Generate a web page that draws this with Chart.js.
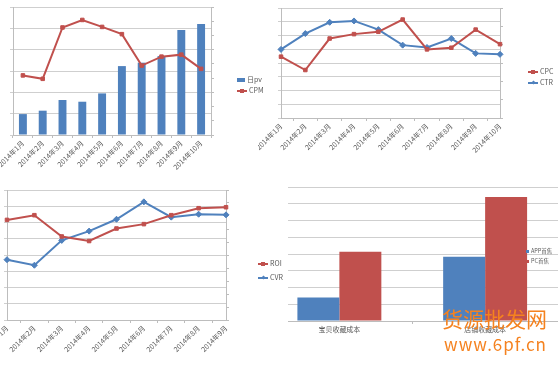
<!DOCTYPE html>
<html>
<head>
<meta charset="utf-8">
<script src="https://cdn.jsdelivr.net/npm/chart.js@4"></script>
<style>
  body { margin: 0; width: 558px; height: 365px; overflow: hidden; position: relative; background: #fff; font-family: "Noto Sans CJK SC", sans-serif; }
  canvas { position: absolute; }
  .lg { position: absolute; font-size: 7px; color: #595959; line-height: 1; white-space: nowrap; z-index: 5; }
  .lg i { display: inline-block; position: relative; vertical-align: middle; margin-right: 2px; }
  .mark { position: absolute; }
  .wm { position: absolute; color: #f5821f; z-index: 6; white-space: nowrap; }
</style>
</head>
<body>
<canvas id="pvChart" width="270" height="180" style="left:0;top:0"></canvas>
<canvas id="cpcChart" width="300" height="180" style="left:258px;top:0"></canvas>
<canvas id="costChart" width="308" height="185" style="left:250px;top:180px;z-index:1"></canvas>
<canvas id="roiChart" width="288" height="185" style="left:0;top:180px;z-index:2"></canvas>
<div class="wm" style="left:442px;top:303px;font-size:21px;">货源批发网</div>
<div class="wm" style="left:444px;top:331px;font-size:17px;letter-spacing:1px;">www.6pf.cn</div>
<script>
// months
const months10 = ['2014年1月', '2014年2月', '2014年3月', '2014年4月', '2014年5月', '2014年6月', '2014年7月', '2014年8月', '2014年9月', '2014年10月'];
const months9 = ['2014年1月', '2014年2月', '2014年3月', '2014年4月', '2014年5月', '2014年6月', '2014年7月', '2014年8月', '2014年9月'];

// top left: 日pv (bars) + CPM
const pvValues = [0.98, 1.14, 1.64, 1.56, 1.95, 3.23, 3.39, 3.70, 4.92, 5.20];
const cpmValues = [4.19, 3.95, 7.56, 8.09, 7.60, 7.09, 4.88, 5.51, 5.65, 4.65];

// top right: CPC + CTR
const cpcValues = [4.46, 3.49, 5.78, 6.10, 6.27, 7.16, 4.99, 5.11, 6.43, 5.37];
const ctrValues = [4.99, 6.14, 6.96, 7.06, 6.43, 5.30, 5.13, 5.78, 4.70, 4.63];

// bottom left: ROI + CVR
const roiValues = [6.16, 6.45, 5.14, 4.86, 5.63, 5.90, 6.45, 6.88, 6.94];
const cvrValues = [3.71, 3.37, 4.90, 5.47, 6.20, 7.27, 6.33, 6.51, 6.47];

// bottom right: cost bars
const costCategories = ['宝贝收藏成本', '店铺收藏成本'];
const appValues = [1.40, 3.84];
const pcValues = [4.14, 7.40];

const BLUE = '#4f81bd';
const RED = '#c0504d';
const GRID = '#cfcfcf';
const AXIS = '#bdbdbd';
const FONT = { family: '"Noto Sans CJK SC", sans-serif', size: 7 };

// force an axis to a fixed size so the plot areas line up with the picture
function fixed(w, h) {
    return function (scale) {
        if (w != null) scale.width = w;
        if (h != null) scale.height = h;
        scale.paddingLeft = scale.paddingRight = scale.paddingTop = scale.paddingBottom = 0;
    };
}

function xAxis(h, rotate) {
    return {
        afterFit: fixed(null, h),
        grid: { display: true, drawOnChartArea: false, tickLength: 3, color: AXIS, offset: true },
        border: { color: AXIS },
        ticks: { font: FONT, color: '#595959', autoSkip: false, maxRotation: rotate, minRotation: rotate, padding: 1 }
    };
}

function yLeft(w, max, border) {
    return {
        position: 'left', min: 0, max: max,
        afterFit: fixed(w, null),
        grid: { color: GRID, tickLength: 3 },
        border: { display: border, color: AXIS },
        ticks: { display: false, stepSize: 1 }
    };
}

function yRight(w, max) {
    return {
        position: 'right', min: 0, max: max,
        afterFit: fixed(w, null),
        grid: { drawOnChartArea: false, tickLength: 3, color: AXIS },
        border: { color: AXIS },
        ticks: { display: false, stepSize: 1 }
    };
}

function lineSet(label, data, color, style, axis) {
    return {
        type: 'line', label: label, data: data, yAxisID: axis || 'y',
        borderColor: color, backgroundColor: color, borderWidth: 2,
        pointStyle: style, pointRadius: style === 'rect' ? 2.5 : 3, pointBorderWidth: 1,
        tension: 0, order: 0
    };
}

const baseOpts = (top, scales) => ({
    responsive: false,
    animation: false,
    layout: { padding: { top: top, left: 0, right: 0, bottom: 0 } },
    plugins: { legend: { display: false }, tooltip: { enabled: false } },
    scales: scales
});

const whiteBg = {
    id: 'whiteBg',
    beforeDraw(c) {
        c.ctx.save();
        c.ctx.fillStyle = '#fff';
        c.ctx.fillRect(0, 0, c.width, c.height);
        c.ctx.restore();
    }
};

// html legend, built from the datasets
function legend(left, top, gap, sets, size) {
    sets.forEach((ds, i) => {
        const d = document.createElement('div');
        d.className = 'lg';
        d.style.left = left + 'px';
        d.style.top = (top + i * gap) + 'px';
        if (size) d.style.fontSize = size + 'px';
        let mark;
        if (ds.type === 'line') {
            const r = ds.pointStyle === 'rect' ? 'width:4px;height:4px;left:3px;top:-1.5px;' : 'width:3px;height:3px;left:3.5px;top:-1px;transform:rotate(45deg);';
            mark = '<i style="width:10px;height:1.5px;background:' + ds.borderColor + '"><span class="mark" style="' + r + 'background:' + ds.borderColor + '"></span></i>';
        } else {
            mark = '<i style="width:' + ds.lgW + 'px;height:' + ds.lgH + 'px;background:' + ds.backgroundColor + '"></i>';
        }
        d.innerHTML = mark + ds.label;
        document.body.appendChild(d);
    });
}

// 1. 日pv / CPM
const pvSets = [
    { type: 'bar', label: '日pv', data: pvValues, backgroundColor: BLUE, barPercentage: 0.4, categoryPercentage: 1, order: 1, lgW: 8, lgH: 3.5 },
    lineSet('CPM', cpmValues, RED, 'rect', 'y1')
];
new Chart(document.getElementById('pvChart'), {
    type: 'bar',
    data: { labels: months10, datasets: pvSets },
    options: baseOpts(7, { x: xAxis(45, 45), y: yLeft(13, 6, true), y1: yRight(59, 9) })
});
legend(237, 76, 11, pvSets);

// 2. CPC / CTR
const cpcSets = [
    lineSet('CPC', cpcValues, RED, 'rect'),
    lineSet('CTR', ctrValues, BLUE, 'rectRot')
];
new Chart(document.getElementById('cpcChart'), {
    type: 'line',
    data: { labels: months10, datasets: cpcSets },
    options: baseOpts(8, { x: xAxis(62, 45), y: yLeft(23, 8, true), y1: yRight(58, 6) })
});
legend(528, 68, 11, cpcSets);

// 3. ROI / CVR
const roiSets = [
    lineSet('ROI', roiValues, RED, 'rect'),
    lineSet('CVR', cvrValues, BLUE, 'rectRot')
];
new Chart(document.getElementById('roiChart'), {
    type: 'line',
    data: { labels: months9, datasets: roiSets },
    options: baseOpts(10, { x: xAxis(45, 45), y: yLeft(7, 8, true), y1: yRight(62, 10) }),
    plugins: [whiteBg]
});
legend(258, 260, 14, roiSets);

// 4. cost bars
const costSets = [
    { label: 'APP首焦', data: appValues, backgroundColor: BLUE, barPercentage: 1, categoryPercentage: 0.576, lgW: 3, lgH: 3 },
    { label: 'PC首焦', data: pcValues, backgroundColor: RED, barPercentage: 1, categoryPercentage: 0.576, lgW: 3, lgH: 3 }
];
new Chart(document.getElementById('costChart'), {
    type: 'bar',
    data: { labels: costCategories, datasets: costSets },
    options: baseOpts(7, { x: xAxis(44, 0), y: yLeft(16.5, 8, false) })
});
legend(526, 249, 10, costSets, 5.5);
</script>
</body>
</html>
